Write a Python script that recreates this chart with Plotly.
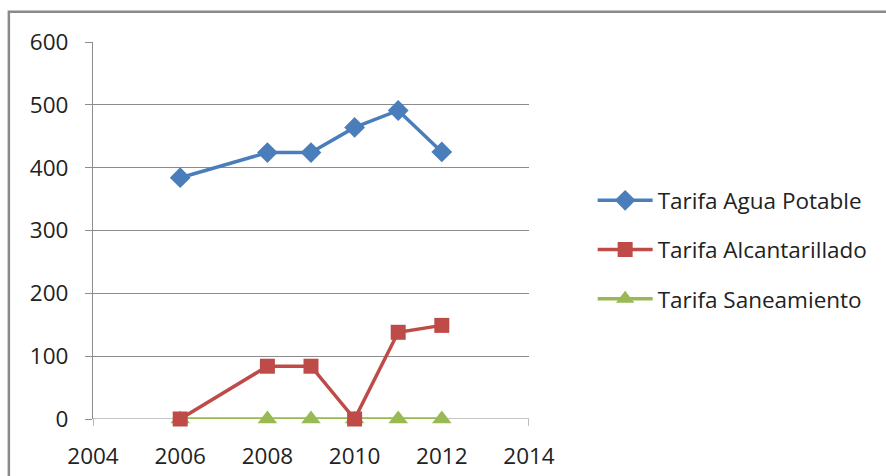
import plotly.graph_objects as go

# Tariff values per year
years_agua = [2006, 2008, 2009, 2010, 2011, 2012]
agua_potable = [384, 424, 424, 464, 491, 425]

years_alc = [2006, 2008, 2009, 2010, 2011, 2012]
alcantarillado = [0, 84, 84, 0, 138, 149]

years_san = [2006, 2008, 2009, 2010, 2011, 2012]
saneamiento = [0, 0, 0, 0, 0, 0]

x_ticks = [2004, 2006, 2008, 2010, 2012, 2014]
y_ticks = [0, 100, 200, 300, 400, 500, 600]

FONT = "Open Sans"
FS = 22.5
TXT = "#222222"

fig = go.Figure()

fig.add_trace(go.Scatter(
    x=years_san, y=saneamiento, name="Tarifa Saneamiento",
    mode="lines+markers", legendgroup="c", legendrank=3, cliponaxis=False,
    line=dict(color="#98B954", width=3.5),
    marker=dict(symbol="triangle-up", size=17, color="#98B954"),
))
fig.add_trace(go.Scatter(
    x=years_alc, y=alcantarillado, name="Tarifa Alcantarillado",
    mode="lines+markers", legendgroup="b", legendrank=2, cliponaxis=False,
    line=dict(color="#BE4B48", width=3.5),
    marker=dict(symbol="square", size=15, color="#BE4B48"),
))
fig.add_trace(go.Scatter(
    x=years_agua, y=agua_potable, name="Tarifa Agua Potable",
    mode="lines+markers", legendgroup="a", legendrank=1, cliponaxis=False,
    line=dict(color="#4A7EBB", width=3.5),
    marker=dict(symbol="diamond", size=16, color="#4A7EBB"),
))

fig.update_layout(
    width=886, height=476,
    margin=dict(l=93, r=357, t=42, b=57, autoexpand=False),
    paper_bgcolor="white", plot_bgcolor="white",
    font=dict(family=FONT, size=FS, color=TXT),
    showlegend=True,
    legend=dict(
        x=1.146, y=0.449, xanchor="left", yanchor="middle",
        font=dict(family=FONT, size=FS, color=TXT),
        itemwidth=55, tracegroupgap=17, traceorder="grouped",
        bgcolor="rgba(0,0,0,0)",
    ),
    xaxis=dict(
        range=[2004, 2014], tickvals=x_ticks,
        showgrid=False, zeroline=False,
        showline=False, automargin=False,
        ticks="", tickfont=dict(size=FS, family=FONT, color=TXT),
        ticklabelstandoff=21,
    ),
    yaxis=dict(
        range=[0, 600], tickvals=y_ticks,
        showgrid=True, gridcolor="#8C8C8C", gridwidth=1.2,
        zeroline=False, automargin=False,
        showline=True, linecolor="#8C8C8C", linewidth=1.2,
        ticks="outside", ticklen=7, tickcolor="#8C8C8C",
        tickfont=dict(size=FS, family=FONT, color=TXT),
        ticklabelstandoff=12,
    ),
)

# Baseline with tick marks at both ends of the horizontal axis
fig.add_shape(type="line", xref="x", yref="y", x0=2004, x1=2014, y0=0, y1=0,
              line=dict(color="#8C8C8C", width=1.2), layer="below")
for xv in (2004, 2014):
    fig.add_shape(type="line", xref="x", yref="paper", x0=xv, x1=xv, y0=0, y1=-0.018,
                  line=dict(color="#8C8C8C", width=1.2))

# Outer chart frame
fig.add_shape(type="rect", xref="paper", yref="paper",
              x0=-0.193, x1=2.2, y0=-0.4, y1=1.08,
              line=dict(color="#8A8A8A", width=2.5), layer="below")

fig.write_html("out.html")
